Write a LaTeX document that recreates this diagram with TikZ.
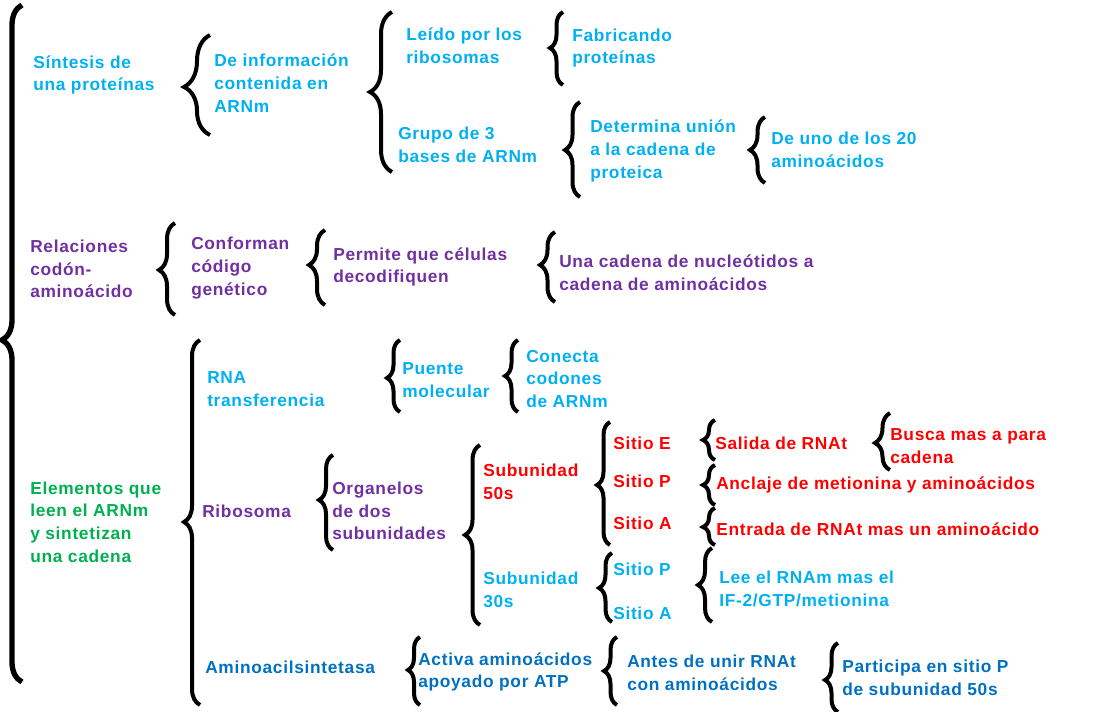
\documentclass[tikz,border=0pt]{standalone}
\usepackage{fontspec}
\setmainfont{Liberation Sans}[LetterSpace=4]
\usetikzlibrary{decorations.pathreplacing}
\definecolor{lb}{HTML}{00B0F0}
\definecolor{pu}{HTML}{7030A0}
\definecolor{gr}{HTML}{00B050}
\definecolor{rd}{HTML}{FF0000}
\definecolor{db}{HTML}{0070C0}
\newcommand\brc[6][3pt]{%
  \pgfmathsetmacro\brcasp{(#4-#5)/(#4-#3)}%
  \draw[brcst, line width=#1, decoration={brace, amplitude=#6*0.75pt, aspect=\brcasp}, decorate] (#2,#4) -- (#2,#3);%
}
\begin{document}
\begin{tikzpicture}[x=0.75pt,y=-0.75pt,
  brcst/.style={black},
  txt/.style={anchor=west, inner sep=0pt, align=left, font=\bfseries\fontsize{13}{17}\selectfont},
  lbt/.style={txt, text=lb},
  put/.style={txt, text=pu},
  grt/.style={txt, text=gr},
  rdt/.style={txt, text=rd},
  dbt/.style={txt, text=db}]
\useasboundingbox (0,0) rectangle (1100,712);
% braces
\brc[4pt]{22}{5}{682}{340}{20}
\brc{210}{35}{135}{87}{26}
\brc{392}{12}{172}{92}{22}
\brc{563}{12}{85}{48}{13}
\brc{580}{102}{197}{150}{15}
\brc{765}{117}{183}{150}{15}
\brc{175}{223}{315}{270}{16}
\brc{325}{230}{305}{265}{16}
\brc{555}{232}{302}{265}{15}
\brc{200}{340}{705}{522}{16}
\brc{400}{340}{412}{378}{13}
\brc{518}{340}{412}{376}{13}
\brc{333}{455}{550}{500}{14}
\brc{480}{445}{625}{535}{15}
\brc{610}{422}{545}{485}{13}
\brc{612}{553}{622}{588}{13}
\brc{715}{420}{460}{440}{12}
\brc{890}{413}{470}{443}{15}
\brc{715}{465}{505}{485}{12}
\brc{715}{508}{545}{527}{12}
\brc{712}{548}{622}{585}{14}
\brc{420}{637}{705}{670}{12}
\brc{617}{637}{705}{671}{13}
\brc{838}{643}{712}{680}{13}
% texts
\node[lbt] (s1) at (33,75) {Síntesis de\\una proteínas};
\node[lbt] (s2) at (214,83) {De información\\contenida en\\ARNm};
\node[lbt] (s3) at (406,46) {Leído por los\\ribosomas};
\node[lbt] (s4) at (572,48) {Fabricando\\proteínas};
\node[lbt] (s5) at (398,145) {Grupo de 3\\bases de ARNm};
\node[lbt] (s6) at (590,151) {Determina unión\\a la cadena de\\proteica};
\node[lbt] (s7) at (771,150) {De uno de los 20\\aminoácidos};
\node[put] (r1) at (30,269) {Relaciones\\codón-\\aminoácido};
\node[put] (r2) at (191,268) {Conforman\\código\\genético};
\node[put] (r3) at (333,267) {Permite que células\\decodifiquen};
\node[put] (r4) at (559,273) {Una cadena de nucleótidos a\\cadena de aminoácidos};
\node[grt] (e1) at (30,522) {Elementos que\\leen el ARNm\\y sintetizan\\una cadena};
\node[lbt] (e2) at (207,389) {RNA\\transferencia};
\node[put] (e3) at (202,511) {Ribosoma};
\node[dbt] (e4) at (205,667) {Aminoacilsintetasa};
\node[lbt] (e5) at (402,380) {Puente\\molecular};
\node[lbt] (e6) at (526,379) {Conecta\\codones\\de ARNm};
\node[put] (e7) at (332,511) {Organelos\\de dos\\subunidades};
\node[rdt] (e8) at (483,482) {Subunidad\\50s};
\node[lbt] (e9) at (483,590) {Subunidad\\30s};
\node[rdt] (e10) at (613,443) {Sitio E};
\node[rdt] (e11) at (613,481) {Sitio P};
\node[rdt] (e12) at (613,523) {Sitio A};
\node[lbt] (e13) at (613,569) {Sitio P};
\node[lbt] (e14) at (613,613) {Sitio A};
\node[rdt] (e15) at (715,443) {Salida de RNAt};
\node[rdt] (e16) at (890,446) {Busca mas a para\\cadena};
\node[rdt] (e17) at (716,485) {Anclaje de metionina y aminoácidos};
\node[rdt] (e18) at (716,529) {Entrada de RNAt mas un aminoácido};
\node[lbt] (e19) at (719,589) {Lee el RNAm mas el\\IF-2/GTP/metionina};
\node[dbt] (e20) at (418,672) {Activa aminoácidos\\apoyado por ATP};
\node[dbt] (e21) at (627,673) {Antes de unir RNAt\\con aminoácidos};
\node[dbt] (e22) at (842,678) {Participa en sitio P\\de subunidad 50s};
\end{tikzpicture}
\end{document}
